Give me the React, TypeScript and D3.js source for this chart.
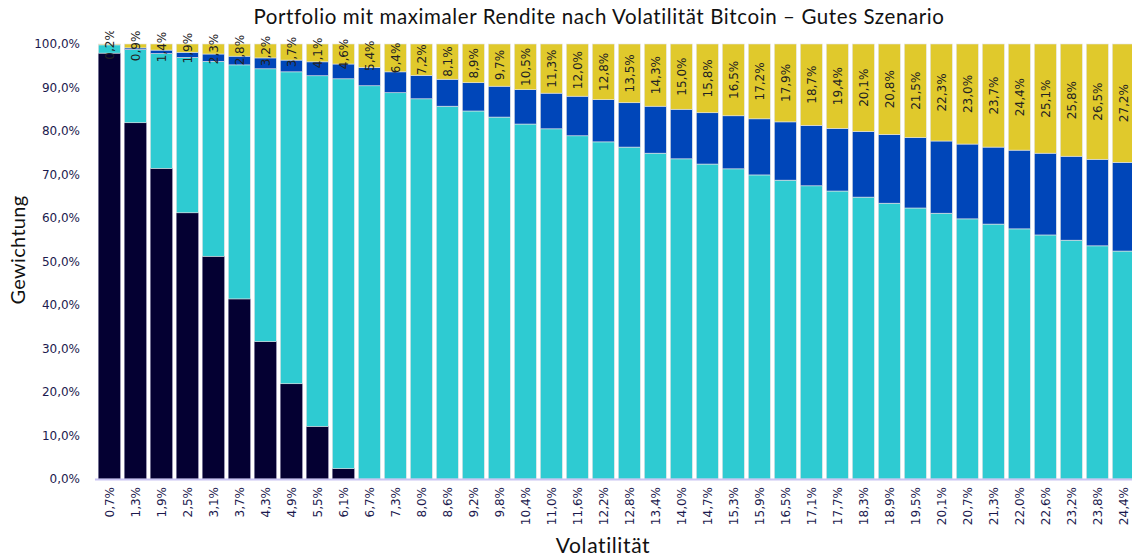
import * as d3 from "d3";
import { useMemo } from "react";

// Volatilität (x categories)
const volatility = [
  "0,7%", "1,3%", "1,9%", "2,5%", "3,1%", "3,7%", "4,3%", "4,9%", "5,5%", "6,1%",
  "6,7%", "7,3%", "8,0%", "8,6%", "9,2%", "9,8%", "10,4%", "11,0%", "11,6%", "12,2%",
  "12,8%", "13,4%", "14,0%", "14,7%", "15,3%", "15,9%", "16,5%", "17,1%", "17,7%", "18,3%",
  "18,9%", "19,5%", "20,1%", "20,7%", "21,3%", "22,0%", "22,6%", "23,2%", "23,8%", "24,4%",
];

// Gewichtungen in %, von unten nach oben gestapelt
const darkSeries = [
  97.9, 81.9, 71.4, 61.2, 51.2, 41.4, 31.6, 21.9, 12.1, 2.4,
  0, 0, 0, 0, 0, 0, 0, 0, 0, 0,
  0, 0, 0, 0, 0, 0, 0, 0, 0, 0,
  0, 0, 0, 0, 0, 0, 0, 0, 0, 0,
];
const cyanSeries = [
  1.9, 16.8, 26.4, 35.7, 44.8, 53.8, 62.7, 71.7, 80.6, 89.6,
  90.4, 88.8, 87.4, 85.7, 84.6, 83.2, 81.6, 80.5, 78.9, 77.5,
  76.3, 74.9, 73.6, 72.4, 71.3, 69.9, 68.7, 67.4, 66.2, 64.8,
  63.4, 62.3, 61.1, 59.8, 58.6, 57.5, 56.1, 54.9, 53.6, 52.4,
];
const blueSeries = [
  0, 0.4, 0.8, 1.2, 1.7, 2.0, 2.5, 2.7, 3.2, 3.4,
  4.2, 4.8, 5.4, 6.2, 6.5, 7.1, 7.9, 8.2, 9.1, 9.7,
  10.2, 10.8, 11.4, 11.8, 12.2, 12.9, 13.4, 13.9, 14.4, 15.1,
  15.8, 16.2, 16.6, 17.2, 17.7, 18.1, 18.8, 19.3, 19.9, 20.4,
];
const bitcoinSeries = [
  0.2, 0.9, 1.4, 1.9, 2.3, 2.8, 3.2, 3.7, 4.1, 4.6,
  5.4, 6.4, 7.2, 8.1, 8.9, 9.7, 10.5, 11.3, 12.0, 12.8,
  13.5, 14.3, 15.0, 15.8, 16.5, 17.2, 17.9, 18.7, 19.4, 20.1,
  20.8, 21.5, 22.3, 23.0, 23.7, 24.4, 25.1, 25.8, 26.5, 27.2,
];

const yTicks = [0, 10, 20, 30, 40, 50, 60, 70, 80, 90, 100];

const keys = ["dark", "cyan", "blue", "bitcoin"];
const colors: Record<string, string> = {
  dark: "#040032",
  cyan: "#2ecbd2",
  blue: "#0046b9",
  bitcoin: "#e0c92c",
};

const W = 1132;
const H = 558;
const fmt = (v: number) => v.toFixed(1).replace(".", ",") + "%";
const axisFont = "'DejaVu Sans', Verdana, sans-serif";
const titleFont = "Lato, 'Open Sans', sans-serif";

export default function App() {
  const rows = useMemo(
    () =>
      volatility.map((v, i) => ({
        vol: v,
        dark: darkSeries[i],
        cyan: cyanSeries[i],
        blue: blueSeries[i],
        bitcoin: bitcoinSeries[i],
      })),
    []
  );

  const x = d3
    .scaleBand<string>()
    .domain(volatility)
    .range([96.3, 96.3 + 26 * 40])
    .paddingInner(0.154)
    .paddingOuter(0.077);

  const y = d3.scaleLinear().domain([0, 100]).range([479, 44]);

  const stacked = d3.stack<any>().keys(keys)(rows);

  return (
    <svg
      width={W}
      height={H}
      style={{ position: "absolute", left: 0, top: 0, background: "#fff" }}
    >
      <defs>
        <clipPath id="plotClip">
          <rect x={0} y={31} width={W} height={H} />
        </clipPath>
      </defs>

      <text
        x={599}
        y={24}
        textAnchor="middle"
        fontFamily={titleFont}
        fontSize={20.5}
        letterSpacing={0.6}
        fill="#111"
      >
        Portfolio mit maximaler Rendite nach Volatilität Bitcoin – Gutes Szenario
      </text>

      {/* y-Achse */}
      {yTicks.map((t) => (
        <text
          key={t}
          x={80}
          y={y(t)}
          dy="0.35em"
          textAnchor="end"
          fontFamily={axisFont}
          fontSize={12}
          fill="#1c1a4e"
        >
          {fmt(t)}
        </text>
      ))}
      <text
        transform={`translate(25, 250) rotate(-90)`}
        textAnchor="middle"
        fontFamily={titleFont}
        fontSize={20}
        letterSpacing={0.3}
        fill="#111"
      >
        Gewichtung
      </text>

      {/* Balken */}
      {stacked.map((layer) => (
        <g key={layer.key}>
          {layer.map((d, i) =>
            d[1] - d[0] > 0 ? (
              <rect
                key={i}
                x={x(volatility[i])}
                y={y(d[1])}
                width={x.bandwidth()}
                height={y(d[0]) - y(d[1])}
                fill={colors[layer.key]}
                stroke={layer.key === "dark" ? "#8a86a8" : "#e4e4e4"}
                strokeWidth={0.6}
              />
            ) : null
          )}
        </g>
      ))}

      {/* Bitcoin Beschriftung */}
      <g clipPath="url(#plotClip)">
        {stacked[3].map((d, i) => {
          const cx = (x(volatility[i]) as number) + x.bandwidth() / 2;
          const cy = (y(d[0]) + y(d[1])) / 2;
          return (
            <text
              key={i}
              transform={`translate(${cx}, ${cy}) rotate(-90)`}
              textAnchor="middle"
              dy="0.35em"
              fontFamily={axisFont}
              fontSize={12}
              fill="#222"
            >
              {fmt(bitcoinSeries[i])}
            </text>
          );
        })}
      </g>

      {/* Basislinie */}
      <line x1={95} x2={W} y1={479.5} y2={479.5} stroke="#c9c4f2" strokeWidth={2} />

      {/* x-Achse */}
      {volatility.map((v) => {
        const cx = (x(v) as number) + x.bandwidth() / 2;
        return (
          <text
            key={v}
            transform={`translate(${cx}, 487) rotate(-90)`}
            textAnchor="end"
            dy="0.35em"
            fontFamily={axisFont}
            fontSize={12}
            fill="#1c1a4e"
          >
            {v}
          </text>
        );
      })}
      <text
        x={603}
        y={553}
        textAnchor="middle"
        fontFamily={titleFont}
        fontSize={21}
        letterSpacing={0.6}
        fill="#111"
      >
        Volatilität
      </text>
    </svg>
  );
}
